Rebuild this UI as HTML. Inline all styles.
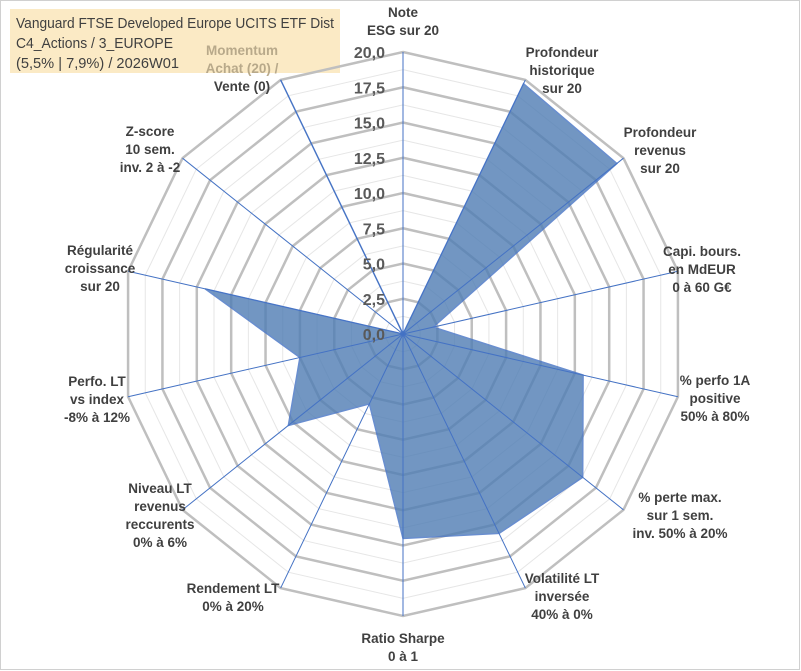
<!DOCTYPE html>
<html><head><meta charset="utf-8"><style>
body{margin:0;background:#fff}
#c{position:relative;width:801px;height:671px;overflow:hidden;font-family:"Liberation Sans",sans-serif}
</style></head><body>
<div id="c">
<svg id="s" width="801" height="671" xmlns="http://www.w3.org/2000/svg">
<rect x="0.5" y="0.5" width="799" height="669" fill="#fff" stroke="#d0d0d0"/>
<rect x="10" y="9" width="330" height="64" fill="#fbe8bf" opacity="0.9"/>
<text x="16" y="28" font-family="Liberation Sans" font-size="15" fill="#404040" textLength="318" lengthAdjust="spacingAndGlyphs">Vanguard FTSE Developed Europe UCITS ETF Dist</text>
<text x="16" y="48" font-family="Liberation Sans" font-size="15" fill="#404040" textLength="157" lengthAdjust="spacingAndGlyphs">C4_Actions / 3_EUROPE</text>
<text x="16" y="68" font-family="Liberation Sans" font-size="15" fill="#404040" textLength="163" lengthAdjust="spacingAndGlyphs">(5,5% | 7,9%) / 2026W01</text>
<g id="grid"></g><g id="series"></g><g id="axes"></g><g id="ticks"></g><g id="labels"></g>
</svg>
</div>
<script>
const categories=["Note\nESG sur 20","Profondeur\nhistorique\nsur 20","Profondeur\nrevenus\nsur 20","Capi. bours.\nen MdEUR\n0 à 60 G€","% perfo 1A\npositive\n50% à 80%","% perte max.\nsur 1 sem.\ninv. 50% à 20%","Volatilité LT\ninversée\n40% à 0%","Ratio Sharpe\n0 à 1","Rendement LT\n0% à 20%","Niveau LT\nrevenus\nreccurents\n0% à 6%","Perfo. LT\nvs index\n-8% à 12%","Régularité\ncroissance\nsur 20","Z-score\n10 sem.\ninv. 2 à -2","Momentum\nAchat (20) /\nVente (0)"];
const values=[0,19.7,19.4,2.2,13.1,16.3,15.7,14.5,5.5,10.4,7.5,14.4,0,20];
const tickLabels=["0,0","2,5","5,0","7,5","10,0","12,5","15,0","17,5","20,0"];
const maxV=20;
const NS="http://www.w3.org/2000/svg";
const cx=403,cy=334,R=282,N=categories.length;
function ang(i){return i*2*Math.PI/N;}
function pt(i,v){const r=v/maxV*R;return [cx+r*Math.sin(ang(i)),cy-r*Math.cos(ang(i))];}
function mk(tag,parent,attrs){const e=document.createElementNS(NS,tag);for(const k in attrs)e.setAttribute(k,attrs[k]);document.getElementById(parent).appendChild(e);return e;}
for(let k=1;k<=16;k++){const v=k*1.25;const p=[];for(let i=0;i<N;i++)p.push(pt(i,v).join(','));
const major=k%2===0;
const e=mk('polygon','grid',{points:p.join(' '),fill:'none',stroke:major?'#bfbfbf':'#e6e6e6','stroke-width':major?2.5:1});

}
const sp=values.map((v,i)=>pt(i,v).join(',')).join(' ');
const poly=mk('polygon','series',{points:sp,fill:'#4f7db4',opacity:'0.8',stroke:'#4472c4','stroke-width':1.5});


for(let i=0;i<N;i++){const [x,y]=pt(i,maxV);const l=mk('line','axes',{x1:cx,y1:cy,x2:x,y2:y,stroke:'#4472c4','stroke-width':1});

}
tickLabels.forEach((t,k)=>{const v=k*2.5;const y=cy-v/maxV*R;const e=mk('text','ticks',{x:385,y:y+6,'text-anchor':'end','font-size':16,'font-weight':'bold',fill:'#595959','font-family':'Liberation Sans'});e.textContent=t;

});
const labelPos=[[403,17],[562,57],[660,137],[702,256],[715,385],[680,502],[562,583],[403,643],[233,593],[160,493],[97,386],[100,255],[150,136],[242,55]];
categories.forEach((c,i)=>{const lines=c.split('\n');const [x,y]=labelPos[i];
const t=mk('text','labels',{x:x,y:y,'text-anchor':'middle','font-size':13.5,'font-weight':'bold',fill:'#404040','font-family':'Liberation Sans'});


lines.forEach((ln,j)=>{const ts=document.createElementNS(NS,'tspan');ts.setAttribute('x',x);ts.setAttribute('dy',j===0?0:18);
if(i===13&&j<2)ts.setAttribute('fill','#b8a98a');
ts.textContent=ln;t.appendChild(ts);});});
</script>
</body></html>
